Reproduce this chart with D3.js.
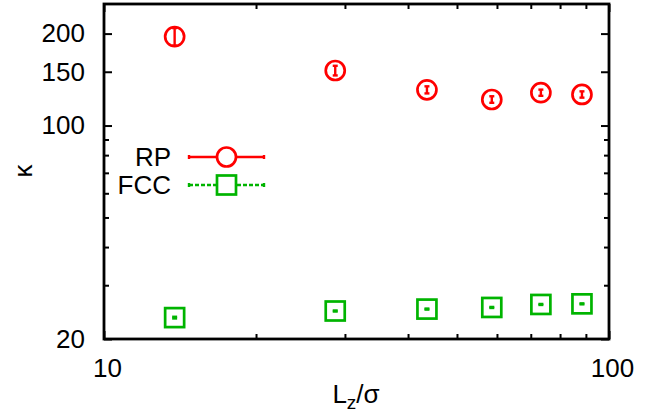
<!DOCTYPE html>
<html><head><meta charset="utf-8">
<script src="https://cdn.jsdelivr.net/npm/d3@7"></script>
<style>body{margin:0;background:#fff}svg{display:block}text{font-family:"Liberation Sans",Arial,sans-serif}</style>
</head><body><svg id="c" width="671" height="418"></svg>
<script>
const Lz = [13.8, 28.7, 43.6, 58.6, 73.3, 88.4];
const rpKappa = [195.5, 151.4, 130.9, 121.7, 128.1, 126.4];
const rpErr = [13, 5.5, 3.5, 3, 3, 3];
const fccKappa = [23.5, 24.7, 25.06, 25.37, 25.95, 26.07];
const fccErr = [0.15, 0.1, 0.1, 0.1, 0.1, 0.1];
const xMajor = [10, 100];
const xMinor = [20, 30, 40, 50, 60, 70, 80, 90];
const yMajor = [20, 100, 150, 200];
const yMinor = [30, 40, 50, 60, 70, 80, 90];
const seriesNames = ["RP", "FCC"];

const svg = d3.select("#c");
const L = 104, R = 609, T = 4, B = 339;
const x = d3.scaleLog().domain([10, 100]).range([L, R]);
const y = d3.scaleLog().domain([20, 250]).range([B, T]);
const FS = 26;
const red = "#ff0000", green = "#00b400";

function styleAxis(g){
  g.select(".domain").remove();
  g.selectAll(".tick line").attr("stroke","#000").attr("stroke-width",2);
  g.selectAll("text").attr("font-size",FS).attr("fill","#000").attr("font-family","Liberation Sans, Arial, sans-serif");
}
// left
svg.append("g").attr("transform",`translate(${L},0)`)
  .call(d3.axisLeft(y).tickValues(yMajor).tickFormat(d3.format("d")).tickSize(-8).tickPadding(19)).call(styleAxis);
svg.append("g").attr("transform",`translate(${L},0)`)
  .call(d3.axisLeft(y).tickValues(yMinor).tickFormat("").tickSize(-5)).call(styleAxis);
// right
svg.append("g").attr("transform",`translate(${R},0)`)
  .call(d3.axisRight(y).tickValues(yMajor).tickFormat("").tickSize(-8)).call(styleAxis);
svg.append("g").attr("transform",`translate(${R},0)`)
  .call(d3.axisRight(y).tickValues(yMinor).tickFormat("").tickSize(-5)).call(styleAxis);
// bottom
const bx = svg.append("g").attr("transform",`translate(0,${B})`)
  .call(d3.axisBottom(x).tickValues(xMajor).tickFormat(d3.format("d")).tickSize(-8).tickPadding(20)).call(styleAxis);
bx.selectAll("text").attr("dx",3);
svg.append("g").attr("transform",`translate(0,${B})`)
  .call(d3.axisBottom(x).tickValues(xMinor).tickFormat("").tickSize(-5)).call(styleAxis);
// top
svg.append("g").attr("transform",`translate(0,${T})`)
  .call(d3.axisTop(x).tickValues(xMajor).tickFormat("").tickSize(-8)).call(styleAxis);
svg.append("g").attr("transform",`translate(0,${T})`)
  .call(d3.axisTop(x).tickValues(xMinor).tickFormat("").tickSize(-5)).call(styleAxis);

// frame
svg.append("rect").attr("x",L).attr("y",T).attr("width",R-L).attr("height",B-T)
  .attr("fill","none").attr("stroke","#000").attr("stroke-width",2.8);

// error bars
function errBars(vals, errs, color){
  const g = svg.append("g").attr("stroke",color).attr("stroke-width",2.4);
  vals.forEach((v,i)=>{
    const cx = x(Lz[i]), y1 = y(v-errs[i]), y2 = y(v+errs[i]);
    g.append("line").attr("x1",cx).attr("x2",cx).attr("y1",y1).attr("y2",y2);
    g.append("line").attr("x1",cx-2.5).attr("x2",cx+2.5).attr("y1",y1).attr("y2",y1);
    g.append("line").attr("x1",cx-2.5).attr("x2",cx+2.5).attr("y1",y2).attr("y2",y2);
  });
}
errBars(rpKappa, rpErr, red);
errBars(fccKappa, fccErr, green);

// markers
svg.append("g").selectAll("circle").data(rpKappa).join("circle")
  .attr("cx",(d,i)=>x(Lz[i])).attr("cy",d=>y(d)).attr("r",9.5)
  .attr("fill","none").attr("stroke",red).attr("stroke-width",2.7);
svg.append("g").selectAll("rect").data(fccKappa).join("rect")
  .attr("x",(d,i)=>x(Lz[i])-9.5).attr("y",d=>y(d)-9.5).attr("width",19).attr("height",19)
  .attr("fill","none").attr("stroke",green).attr("stroke-width",2.7);

// legend
const leg = svg.append("g");
[[seriesNames[0],157,red,null],[seriesNames[1],185,green,"4,2"]].forEach(([name,ly,col,dash],k)=>{
  leg.append("text").attr("x",171).attr("y",ly).attr("dy","0.35em").attr("text-anchor","end")
    .attr("font-size",FS).text(name);
  leg.append("line").attr("x1",189).attr("x2",264).attr("y1",ly).attr("y2",ly)
    .attr("stroke",col).attr("stroke-width",2.4).attr("stroke-dasharray",dash);
  [189,264].forEach(ex=>leg.append("line").attr("x1",ex).attr("x2",ex).attr("y1",ly-2).attr("y2",ly+2)
    .attr("stroke",col).attr("stroke-width",2.4));
  if(k===0) leg.append("circle").attr("cx",226.5).attr("cy",ly).attr("r",9.5).attr("fill","#fff").attr("stroke",col).attr("stroke-width",2.7);
  else leg.append("rect").attr("x",217).attr("y",ly-9.5).attr("width",19).attr("height",19).attr("fill","#fff").attr("stroke",col).attr("stroke-width",2.7);
});

// axis titles
svg.append("text").attr("transform","translate(32,171) rotate(-90)").attr("text-anchor","middle")
  .attr("font-size",FS).text("κ");
const xt = svg.append("text").attr("x",356).attr("y",403).attr("text-anchor","middle").attr("font-size",FS);
xt.append("tspan").text("L");
xt.append("tspan").attr("font-size",19).attr("dy",6).text("z");
xt.append("tspan").attr("dy",-6).text("/σ");
</script></body></html>
